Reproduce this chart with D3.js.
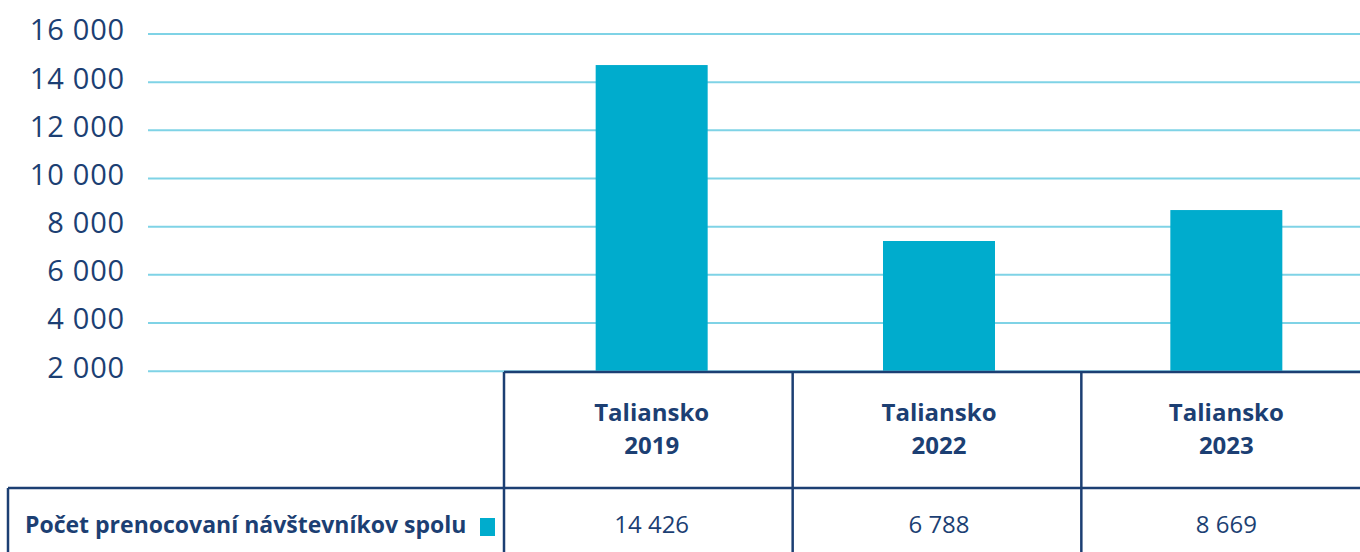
<!DOCTYPE html>
<html>
  <head>
    <meta charset="utf-8" />
    <script src="https://cdn.jsdelivr.net/npm/d3@7"></script>
    <style>
      body { margin: 0; background: #fff; }
      text { font-family: "Open Sans", sans-serif; fill: #1c3f73; }
    </style>
  </head>
  <body>
    <script>
      // data
      const years = ["2019", "2022", "2023"];
      const country = "Taliansko";
      const barValues = [14690, 7385, 8670];          // bar heights as drawn
      const tableValues = ["14 426", "6 788", "8 669"]; // numbers printed in the table
      const seriesName = "Počet prenocovaní návštevníkov spolu";
      const yTicks = [2000, 4000, 6000, 8000, 10000, 12000, 14000, 16000];

      const W = 1360, H = 552;
      const navy = "#1c3f73";
      const barColor = "#00accd";
      const gridColor = "#7fd3e6";

      const svg = d3.select("body").append("svg")
        .attr("width", W).attr("height", H);

      const y = d3.scaleLinear().domain([2000, 16000]).range([370.7, 33.5]);
      // table columns (the last one runs past the right edge)
      const x = d3.scaleBand().domain(years).range([504, 1370]);
      // bars and cell text sit a touch to the right in the first column
      const xc = d3.scaleBand().domain(years).range([508, 1370]);

      const fmt = d3.formatLocale({ decimal: ",", thousands: " ", grouping: [3], currency: ["", ""] }).format(",d");

      // y axis + gridlines
      const yAxis = d3.axisLeft(y)
        .tickValues(yTicks)
        .tickSize(-(W - 148))
        .tickPadding(23)
        .tickFormat(fmt);

      const gy = svg.append("g")
        .attr("transform", "translate(148,0)")
        .call(yAxis);
      gy.select(".domain").remove();
      gy.selectAll(".tick line").attr("stroke", gridColor).attr("stroke-width", 2);
      gy.selectAll(".tick text")
        .attr("font-size", 29)
        .attr("dy", "0.22em")
        .attr("fill", navy)
        .style("letter-spacing", "0.8px")
        .style("font-family", "'Open Sans', sans-serif");

      // bars
      const barW = 112;
      svg.selectAll("rect.bar")
        .data(years)
        .enter()
        .append("rect")
        .attr("class", "bar")
        .attr("x", (d) => xc(d) + xc.bandwidth() / 2 - barW / 2)
        .attr("y", (d, i) => y(barValues[i]))
        .attr("width", barW)
        .attr("height", (d, i) => y(2000) - y(barValues[i]))
        .attr("fill", barColor);

      // table
      const tTop = 372, tMid = 488, tBot = H;
      const table = svg.append("g")
        .attr("stroke", navy)
        .attr("stroke-width", 2.5)
        .attr("fill", "none");

      table.append("line").attr("x1", 504).attr("x2", W).attr("y1", tTop).attr("y2", tTop);
      table.append("line").attr("x1", 8).attr("x2", W).attr("y1", tMid).attr("y2", tMid);
      table.append("line").attr("x1", 8).attr("x2", 8).attr("y1", tMid).attr("y2", tBot);

      table.selectAll("line.col")
        .data(years)
        .enter()
        .append("line")
        .attr("class", "col")
        .attr("x1", (d) => x(d))
        .attr("x2", (d) => x(d))
        .attr("y1", tTop)
        .attr("y2", tBot);

      // header cells
      const head = svg.selectAll("g.head")
        .data(years)
        .enter()
        .append("g")
        .attr("class", "head")
        .attr("transform", (d) => "translate(" + (xc(d) + xc.bandwidth() / 2) + ",0)");

      head.append("text")
        .attr("y", 421)
        .attr("text-anchor", "middle")
        .attr("font-size", 24)
        .attr("font-weight", 700)
        .text(country);
      head.append("text")
        .attr("y", 454)
        .attr("text-anchor", "middle")
        .attr("font-size", 24)
        .attr("font-weight", 700)
        .text((d) => d);

      // value cells
      svg.selectAll("text.val")
        .data(tableValues)
        .enter()
        .append("text")
        .attr("class", "val")
        .attr("x", (d, i) => xc(years[i]) + xc.bandwidth() / 2)
        .attr("y", 533)
        .attr("text-anchor", "middle")
        .attr("font-size", 24)
        .text((d) => d);

      // row label + legend swatch
      svg.append("text")
        .attr("x", 25)
        .attr("y", 533)
        .attr("font-size", 23)
        .attr("font-weight", 700)
        .text(seriesName);

      svg.append("rect")
        .attr("x", 480)
        .attr("y", 518)
        .attr("width", 15)
        .attr("height", 18)
        .attr("fill", barColor);
    </script>
  </body>
</html>
